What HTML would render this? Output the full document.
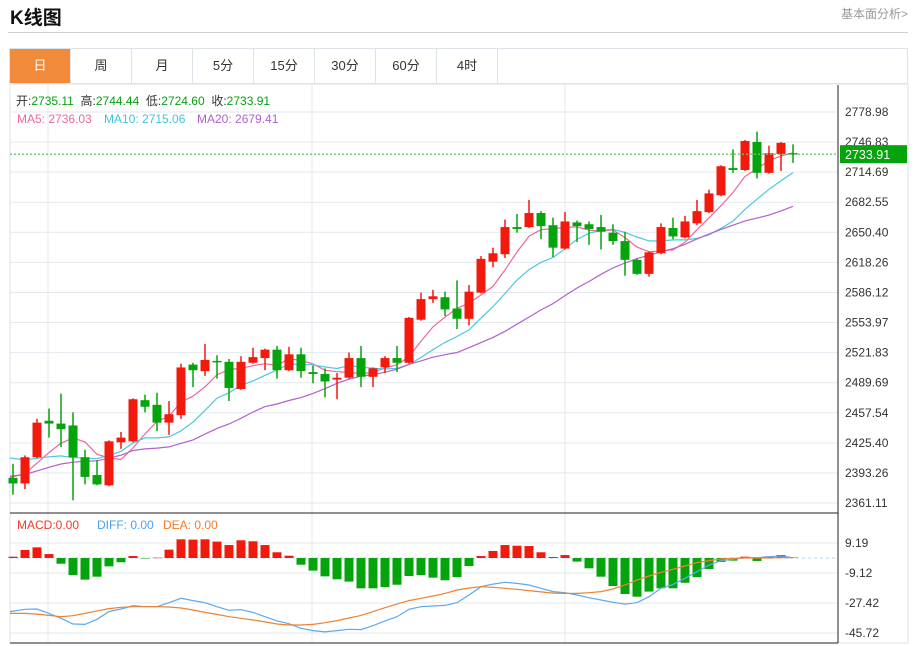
<!DOCTYPE html>
<html><head><meta charset="utf-8"><style>
body{margin:0;width:914px;height:646px;background:#fff;overflow:hidden;font-family:"Liberation Sans","Noto Sans CJK SC",sans-serif;position:relative}
.title{position:absolute;left:10px;top:3px;font-size:19px;font-weight:bold;color:#111}
.more{position:absolute;right:6px;top:5px;font-size:12px;color:#999}
.hr{position:absolute;left:8px;top:32px;width:900px;height:1px;background:#d0d0d0}
.tabs{position:absolute;left:9px;top:48px;width:899px;height:36px;border:1px solid #dde2e8;box-sizing:border-box;display:flex}
.tab{width:61px;box-sizing:border-box;border-right:1px solid #dde2e8;text-align:center;line-height:34px;font-size:13px;color:#333}
.tab.on{background:#f28a3c;color:#fff}
svg{position:absolute;left:0;top:0}
</style></head><body>
<div class="title">K线图</div>
<div class="more">基本面分析&gt;</div>
<div class="hr"></div>
<div class="tabs">
<div class="tab on">日</div>
<div class="tab">周</div>
<div class="tab">月</div>
<div class="tab">5分</div>
<div class="tab">15分</div>
<div class="tab">30分</div>
<div class="tab">60分</div>
<div class="tab">4时</div>
</div>
<svg id="c" width="914" height="646"></svg>
<script>
const opens=[2388,2382,2410,2449,2446,2444,2410,2391,2380,2426,2427,2471,2466,2447,2455,2509,2502,2513,2512,2483,2511,2516,2525,2503,2520,2501,2499,2493,2495,2516,2496,2506,2516,2511,2557,2579,2581,2569,2558,2586,2619,2627,2656,2656,2671,2658,2633,2661,2659,2656,2650,2641,2621,2606,2628,2655,2645,2660,2672,2690,2719,2717,2747,2714,2734,2735.11];
const highs=[2403,2412,2451,2462,2478,2458,2418,2407,2428,2437,2473,2477,2479,2470,2510,2511,2531,2519,2515,2518,2527,2526,2529,2528,2527,2508,2505,2500,2522,2529,2506,2518,2529,2560,2586,2589,2587,2599,2594,2625,2634,2664,2670,2685,2673,2666,2672,2663,2662,2669,2659,2651,2622,2630,2660,2666,2668,2685,2696,2722,2739,2749,2758,2743,2747,2744.44];
const lows=[2370,2376,2409,2431,2421,2364,2381,2380,2379,2419,2426,2458,2438,2434,2451,2485,2497,2494,2470,2482,2510,2503,2494,2502,2495,2489,2474,2472,2494,2485,2485,2500,2501,2510,2556,2575,2561,2547,2551,2585,2613,2623,2650,2655,2643,2624,2632,2640,2637,2632,2637,2604,2605,2603,2627,2643,2644,2658,2671,2689,2714,2716,2708,2713,2716,2724.60];
const closes=[2382,2410,2447,2446,2440,2410,2389,2381,2427,2431,2472,2464,2447,2456,2506,2503,2514,2512,2484,2512,2517,2525,2503,2520,2502,2499,2491,2495,2516,2496,2505,2516,2511,2559,2579,2582,2568,2558,2587,2622,2628,2656,2654,2671,2657,2634,2662,2657,2654,2651,2641,2621,2606,2629,2656,2646,2662,2673,2692,2721,2717,2748,2714,2735,2746,2733.91];
const priorCloses=[2370,2370,2370,2370,2370,2370,2370,2370,2370,2370,2430,2430,2430,2430,2430,2390,2390,2390,2390];
const macdHist=[0.8,4.9,6.5,2.4,-3.5,-10.4,-13.2,-11.4,-5.1,-2.6,1.2,-0.2,0.2,5.1,11.4,11.2,11.4,10.0,7.9,10.8,10.2,7.9,3.5,1.4,-4.1,-7.7,-11.2,-13.0,-14.4,-18.5,-18.5,-17.7,-16.3,-11.0,-10.4,-12.0,-13.6,-11.6,-4.9,1.2,4.3,7.9,7.5,7.3,3.5,0.6,1.8,-2.2,-6.3,-11.4,-17.1,-22.0,-23.6,-20.5,-18.5,-18.5,-15.1,-11.6,-6.7,-2.4,-1.6,0.8,-1.8,1.0,1.8,0.3];
const diffLine=[-32.7,-31.3,-31.1,-33.8,-36.8,-40.3,-40.5,-37.4,-32.7,-31.1,-29.1,-29.7,-29.7,-27.3,-24.6,-26.0,-27.3,-29.7,-31.9,-31.5,-33.2,-35.8,-38.4,-40.1,-42.9,-44.3,-45.1,-44.3,-43.5,-43.7,-41.3,-38.4,-35.8,-31.3,-29.7,-29.3,-28.9,-27.3,-22.6,-17.5,-15.9,-14.8,-15.5,-16.5,-18.5,-20.5,-21.2,-22.6,-24.2,-25.6,-27.0,-28.1,-27.3,-23.6,-18.5,-16.1,-12.4,-8.3,-4.3,-1.6,-0.8,0.2,0.2,0.8,1.2,0.2];
const deaLine=[-33.8,-33.8,-34.2,-35.0,-35.8,-35.2,-33.8,-32.3,-30.9,-30.1,-29.7,-29.7,-29.7,-29.9,-30.5,-31.7,-33.2,-34.4,-35.8,-36.8,-37.8,-39.0,-40.3,-40.9,-40.9,-40.5,-39.5,-38.2,-36.6,-35.0,-32.7,-30.3,-28.1,-26.0,-24.6,-23.2,-21.6,-19.5,-18.3,-17.5,-17.9,-18.5,-19.1,-19.9,-20.7,-21.4,-21.6,-21.6,-21.2,-20.5,-18.9,-16.5,-13.4,-11.0,-8.7,-6.9,-4.9,-2.8,-1.6,-0.6,-0.2,0,0,0,0.2,0.2];
const priceTicks=["2778.98","2746.83","2714.69","2682.55","2650.40","2618.26","2586.12","2553.97","2521.83","2489.69","2457.54","2425.40","2393.26","2361.11"];
const macdTicks=["9.19","-9.12","-27.42","-45.72"];

const NS="http://www.w3.org/2000/svg";
const svg=document.getElementById('c');
function mk(tag,attrs,parent){const e=document.createElementNS(NS,tag);for(const k in attrs)e.setAttribute(k,attrs[k]);(parent||svg).appendChild(e);return e;}
const pMax=2778.98,pMin=2361.11,pTop=112,pBot=503;
const yP=v=>pTop+(pMax-v)*(pBot-pTop)/(pMax-pMin);
const yM=v=>558-v*30/18.305;
const xC=i=>13+i*12;
const RED="#f2190d",GREEN="#05a40c";

let e;
e=mk('rect',{x:10,y:84,width:898,height:559,fill:'none',stroke:'#dde2e8'});

priceTicks.forEach((t,i)=>{const y=pTop+i*(pBot-pTop)/(priceTicks.length-1);
 const g=mk('line',{x1:10,x2:838,y1:y,y2:y,stroke:'#e3e9ef'});
 const tx=mk('text',{x:845,y:y+4,'font-size':12,fill:'#333'});tx.textContent=t;});
macdTicks.forEach((t,i)=>{const y=543+i*30;
 const g=mk('line',{x1:10,x2:838,y1:y,y2:y,stroke:'#e3e9ef'});
 const tx=mk('text',{x:845,y:y+4,'font-size':12,fill:'#333'});tx.textContent=t;});
[48,312,565].forEach(x=>{const g=mk('line',{x1:x,x2:x,y1:84,y2:643,stroke:'#e3e9ef'});});
e=mk('line',{x1:10,x2:838,y1:513,y2:513,stroke:'#222'});
e=mk('line',{x1:10,x2:838,y1:643,y2:643,stroke:'#222'});
e=mk('line',{x1:838,x2:838,y1:85,y2:643,stroke:'#222'});

const all=priorCloses.concat(closes);
function ma(n){return closes.map((c,i)=>{const j=i+priorCloses.length;let s=0;for(let k=j-n+1;k<=j;k++)s+=all[k];return s/n;});}
[[5,'#f0679a','ma5-line'],[10,'#4cc8e0','ma10-line'],[20,'#b45fcf','ma20-line']].forEach(([n,col,nm])=>{
 const m=ma(n);const d=m.map((v,i)=>(i?'L':'M')+(i==0?10:xC(i))+' '+yP(v).toFixed(1)).join(' ');
 const p=mk('path',{d:d,fill:'none',stroke:col,'stroke-width':1.2});});

closes.forEach((c,i)=>{const o=opens[i],up=c>=o,col=up?RED:GREEN,x=xC(i);
 const w=mk('line',{x1:x,x2:x,y1:yP(highs[i]),y2:yP(lows[i]),stroke:col,'stroke-width':1.5});
 const top=yP(Math.max(o,c)),h=Math.max(1.5,yP(Math.min(o,c))-top);
 const r=mk('rect',{x:x-4.5,y:top,width:9,height:h,fill:col});});

const lc=closes[closes.length-1];
e=mk('line',{x1:10,x2:838,y1:yP(lc),y2:yP(lc),stroke:'#6fc46f','stroke-dasharray':'2,2','stroke-width':1.3});
e=mk('rect',{x:840,y:yP(lc)-9,width:67,height:18,fill:'#05a40c'});
e=mk('text',{x:845,y:yP(lc)+5,'font-size':12.5,fill:'#fff'});e.textContent=lc.toFixed(2);

e=mk('line',{x1:10,x2:838,y1:yM(0),y2:yM(0),stroke:'#a9d8ee','stroke-dasharray':'3,3'});
macdHist.forEach((v,i)=>{const y0=yM(0),y1=yM(v);
 const r=mk('rect',{x:xC(i)-4.5,y:Math.min(y0,y1),width:9,height:Math.max(0.5,Math.abs(y1-y0)),fill:v>=0?RED:GREEN});});
[[diffLine,'#5aaaf0','diff-line'],[deaLine,'#f0812e','dea-line']].forEach(([arr,col,nm])=>{
 const d=arr.map((v,i)=>(i?'L':'M')+(i==0?10:xC(i))+' '+yM(v).toFixed(1)).join(' ');
 const p=mk('path',{d:d,fill:'none',stroke:col,'stroke-width':1.2});});

function txt(x,y,s,col,nm,size){const t=mk('text',{x:x,y:y,'font-size':size||12,fill:col});t.textContent=s;return t;}
const G="#08a012";
const ohlc=mk('text',{x:16,y:105,'font-size':12,fill:'#333'});


[['开:','#333'],['2735.11',G],['  高:','#333'],['2744.44',G],['  低:','#333'],['2724.60',G],['  收:','#333'],['2733.91',G]].forEach(([s,c])=>{
 const t=mk('tspan',{fill:c},ohlc);t.textContent=s;});
ohlc.setAttribute('xml:space','preserve');
ohlc.style.whiteSpace='pre';
txt(17,123,'MA5: 2736.03','#f0679a','ma5-legend');
txt(104,123,'MA10: 2715.06','#3ec6dd','ma10-legend');
txt(197,123,'MA20: 2679.41','#b45fcf','ma20-legend');
txt(17,529,'MACD:0.00','#f03a2a','macd-legend');
txt(97,529,'DIFF: 0.00','#4aa2ef','diff-legend');
txt(163,529,'DEA: 0.00','#f07d28','dea-legend');
</script>
</body></html>
